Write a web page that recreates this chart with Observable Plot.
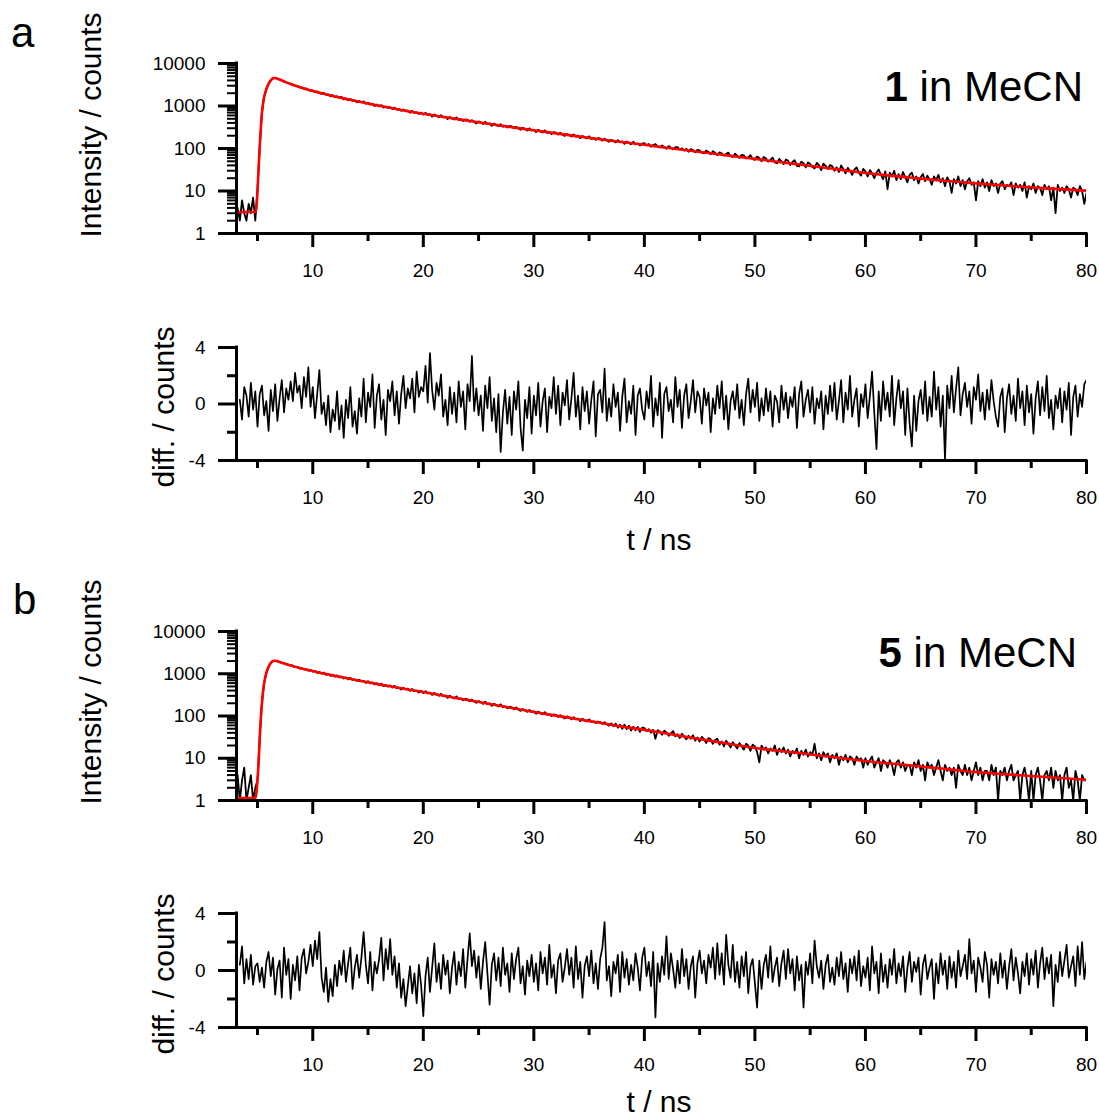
<!DOCTYPE html>
<html><head><meta charset="utf-8">
<script src="https://cdn.jsdelivr.net/npm/d3@7"></script>
<script src="https://cdn.jsdelivr.net/npm/@observablehq/plot@0.6"></script>
<style>
body{margin:0;background:#fff;}
#fig{position:relative;width:1099px;height:1120px;font-family:"Liberation Sans",Arial,Helvetica,sans-serif;color:#000;overflow:hidden;}
.panel{position:absolute;left:0;}
.panel svg{display:block;}
.lbl{position:absolute;white-space:nowrap;line-height:1;}
</style></head><body><div id="fig"></div><script>
// ---------- sampling grid (channel times, ns) ----------
const T0_DECAY = 3.2, T0_RESID = 3.4, DT = 0.2;
const X_DOMAIN = [3.1, 80];
const xMajorTicks = [10, 20, 30, 40, 50, 60, 70, 80];
const xMinorTicks = [5, 15, 25, 35, 45, 55, 65, 75];
const logMajorTicks = [1, 10, 100, 1000, 10000];
const logMinorTicks = [2,3,4,5,6,7,8,9,20,30,40,50,60,70,80,90,200,300,400,500,600,700,800,900,2000,3000,4000,5000,6000,7000,8000,9000];
const diffMajorTicks = [-4, 0, 4];
const diffMinorTicks = [-2, 2];

// ---------- panel a: 1 in MeCN ----------
const countsA = [
4,2,6,3,
2,5,3,7,2,
11,105,690,1640,2520,
3280,4020,4480,4560,4380,
4240,3950,3870,3550,3480,
3230,3220,3000,2970,2740,
2750,2550,2580,2400,2270,
2330,2130,2210,2020,1920,
2040,1830,1870,1690,1800,
1610,1700,1560,1640,1430,
1510,1360,1470,1330,1350,
1220,1310,1220,1280,1130,
1200,1085,1125,1000,1080,
985,1050,920,965,905,
940,850,915,820,835,
770,830,760,780,695,
765,690,710,650,700,
625,690,620,645,565,
630,590,540,610,540,
560,490,555,510,480,
540,470,490,440,485,
470,425,465,420,390,
435,410,375,425,375,
390,340,385,355,335,
375,325,340,310,340,
330,297,328,296,276,
307,290,265,299,265,
276,243,275,252,238,
268,232,243,220,243,
236,212,235,212,198,
219,208,191,215,190,
199,175,198,182,172,
194,168,175,160,175,
172,154,171,154,144,
160,152,139,157,139,
146,129,146,135,127,
144,125,131,118,130,
134,119,128,110,121,
127,112,106,118,109,
99,114,104,96,107,
108,95,101,89,98,
84,97,92,81,93,
90,80,77,89,83,
73,86,79,70,81,
77,68,74,80,66,
63,75,68,60,71,
69,58,62,70,56,
54,65,60,50,63,
58,49,54,61,47,
45,57,50,43,55,
52,41,48,53,39,
38,49,45,36,47,
43,37,34,46,40,
31,44,39,33,41,
38,30,36,28,40,
33,26,35,30,24,
32,36,27,23,33,
29,22,31,26,20,
27,32,24,19,29,
11,27,22,30,18,
25,19,28,21,16,
24,27,18,22,15,
21,25,17,23,19,
14,22,18,24,16,
20,13,21,17,9,
19,15,22,13,18,
11,17,20,14,16,
6,17,13,19,12,
16,10,18,13,15,
9,15,17,11,14,
13,16,8,15,12,
14,10,16,7,13,
11,15,9,13,12,
8,14,11,13,6,
12,3,14,10,12,
9,13,11,7,12,
11,8,13,10,5,
9];
const fitTimes = [3.1,4.8,4.9,5.0,5.1,5.2,5.3,5.4,5.5,5.6,5.7,5.8,6.0,6.2,6.4,6.6,6.8,7.0,7.5,8,8.5,9,9.5,10,11,12,13,14,15,16,17,18,19,20,22,24,26,28,30,32,34,36,38,40,42,44,46,48,50,52,54,56,58,60,62,64,66,68,70,72,74,76,78,80];
const fitA = [3.2,3.2,4,10,35,110,300,700,1150,1650,2050,2500,3300,4000,4500,4550,4400,4200,3700,3296,2965,2692,2460,2265,1940,1680,1470,1295,1145,1015,905,808,724,658,545,453,378,318,268,227,193,165,142,122,104.5,89.7,77.1,66.2,56.9,48.9,42.0,36.1,31.0,26.6,23.3,20.7,18.5,16.7,15.1,13.8,12.7,11.7,10.9,10.2];
const residA = [
0.3,-1.1,1.2,
0.6,-0.9,1.5,-0.4,0.9,
-1.6,0.7,1.3,-0.8,0.2,
-1.9,1.0,-0.5,1.4,-1.2,
0.4,1.7,-0.6,1.1,0.3,
1.6,0.2,2.2,0.8,1.3,
-0.3,1.9,0.5,2.6,-0.2,
1.2,-1.0,0.7,2.4,-0.7,
0.1,-1.5,0.6,-2.0,-0.4,
-1.2,0.9,-1.8,-0.1,-2.4,
0.3,-1.0,1.2,-1.6,-0.5,
-2.1,0.4,-0.9,1.8,-1.3,
0.8,-0.2,2.1,-1.7,0.6,
1.4,-1.1,0.3,-2.2,1.0,
0.2,1.6,-0.8,0.9,-1.4,
0.7,2.0,-0.3,1.1,0.4,
1.8,-0.6,2.3,0.5,1.2,
0.9,2.7,0.1,3.6,1.0,
-0.4,1.5,0.6,2.1,-0.9,
0.3,-1.5,1.2,-0.7,0.8,
-1.3,1.6,-0.2,0.9,-1.8,
1.4,0.2,3.4,-0.5,1.1,
-0.8,0.6,-1.9,1.3,-0.3,
1.9,-1.2,0.4,-2.0,0.7,
-3.4,-0.6,1.0,-1.4,0.5,
-2.2,0.9,-0.4,1.6,-1.7,
-3.3,0.3,-1.0,1.2,-2.1,
0.6,-0.8,1.5,-1.6,0.2,
1.1,-2.0,0.5,-0.3,1.9,
-0.7,1.3,-1.5,0.8,-0.1,
1.7,-1.1,0.4,2.2,-0.9,
0.6,-1.8,1.2,-0.5,0.9,
-1.4,0.3,1.6,-2.3,0.7,
1.0,-0.6,2.5,-1.2,0.4,
-0.9,1.4,-0.2,0.8,-1.9,
0.5,1.8,-1.3,0.2,-0.7,
1.3,-2.2,0.6,1.1,-0.4,
-1.1,0.9,-0.3,2.0,-1.6,
0.4,-0.8,1.5,-2.4,0.7,
1.2,-0.5,0.3,-1.3,1.9,
-0.2,1.0,-1.7,0.6,1.4,
-1.0,0.2,1.7,-0.6,0.9,
0.5,-1.4,1.1,-0.1,0.8,
-2.0,0.4,-0.7,1.3,-0.3,
1.6,-1.1,0.6,-1.8,0.2,
0.9,-0.4,1.4,-1.0,0.3,
-1.5,0.7,1.8,-0.6,1.0,
-0.2,1.5,-1.2,0.4,-0.8,
1.1,-0.5,0.9,-1.6,0.6,
0.2,-1.3,1.3,-0.4,0.8,
-1.0,0.5,-0.2,1.2,-1.7,
0.7,1.6,-0.9,0.3,1.0,
-0.6,1.2,-1.4,0.4,-0.3,
0.9,-1.8,0.6,-0.7,1.3,
-0.5,1.5,-1.1,0.2,1.7,
-1.3,0.8,-0.4,2.0,-0.9,
0.3,1.1,-1.6,0.7,-0.2,
1.4,-1.0,0.5,2.3,-0.6,
-3.2,0.9,-1.2,1.6,-0.4,
0.8,-0.9,2.0,-1.5,0.4,
1.7,-0.3,0.9,-2.2,1.1,
-1.4,-3.0,0.6,-1.9,0.2,
1.0,-0.7,1.6,-1.2,0.5,
-0.9,2.3,-0.4,1.2,-1.6,
0.6,-4.0,1.3,-0.3,2.0,
-0.6,1.1,2.6,-0.8,0.7,
1.5,-0.2,0.9,-1.4,1.2,
0.3,2.1,-0.5,0.8,-1.1,
1.0,-0.4,1.7,0.2,-0.9,
-1.6,0.5,1.1,-2.0,0.4,
1.4,-0.7,0.6,-1.2,1.8,
-0.3,0.9,-1.5,1.3,-0.6,
0.7,-2.1,0.4,1.6,-0.8,
1.2,-0.5,2.0,-1.0,0.3,
-1.8,0.6,-0.3,1.1,-1.3,
0.9,-0.4,1.5,-2.2,0.5,
1.3,-0.9,0.7,-0.2,1.4,
1.7];

// ---------- panel b: 5 in MeCN ----------
const countsB = [
4,1,3,6,
1,2,4,1,2,
3,31,205,610,1040,
1460,1790,2010,2020,1990,
1920,1790,1790,1675,1650,
1550,1550,1435,1460,1330,
1370,1265,1280,1185,1225,
1125,1165,1045,1095,1005,
1060,945,990,890,950,
855,915,825,860,770,
820,735,800,715,735,
670,720,660,680,605,
665,590,620,560,595,
540,585,510,545,500,
530,470,515,460,470,
425,465,425,445,395,
435,385,400,360,395,
350,385,345,360,315,
350,325,300,335,295,
305,268,302,276,259,
291,250,260,235,257,
249,222,245,220,205,
226,213,194,218,191,
199,174,196,179,168,
189,162,169,152,167,
161,144,159,142,132,
146,137,125,140,124,
129,113,127,117,109,
123,107,110,100,109,
106,95,105,94,88,
98,92,84,94,83,
87,75,86,78,74,
83,72,74,68,74,
72,65,71,64,59,
67,57,66,53,62,
50,62,49,59,45,
56,46,55,42,53,
52,44,49,40,47,
29,46,43,36,45,
41,34,39,44,33,
37,30,38,33,28,
34,29,35,26,31,
25,32,28,23,30,
28,22,27,29,21,
25,19,26,22,18,
24,20,17,23,19,
16,22,20,15,21,
19,14,8,20,16,
18,13,17,15,20,
12,17,14,18,13,
16,11,15,13,17,
10,15,12,16,11,
14,12,22,10,13,
9,14,11,13,8,
12,10,13,7,11,
9,12,8,11,10,
7,11,9,10,6,
10,7,9,11,6,
8,10,5,9,8,
6,9,7,4,8,
9,6,8,5,7,
7,4,8,6,9,
5,7,3,8,6,
7,4,6,9,5,
3,7,5,6,4,
6,2,7,5,4,
7,4,6,3,5,
8,4,6,3,5,
5,3,7,4,6,
1,5,4,6,3,
5,7,3,4,5,
1,4,6,3,1,
5,1,4,6,3,
1,4,5,3,6,
2,5,3,4,1,
4,6,2,3,1,
5,3,1,4,3,
3];
const fitB = [1.15,1.15,1.5,3,8,30,90,200,380,600,820,1050,1450,1800,2000,2030,1980,1900,1720,1580,1440,1330,1240,1160,1010,890,790,703,627,561,504,453,408,369,297,239,193,155,125,102,84,69,56,47,38.5,31.5,25.8,21.2,17.5,15.2,13.3,11.5,10.0,8.6,7.6,6.8,6.0,5.3,4.7,4.3,3.95,3.65,3.35,3.1];
const residB = [
0.4,1.7,-0.9,
0.8,-0.6,1.1,-1.0,0.3,
0.5,-0.8,0.2,-1.2,0.6,
1.3,-0.4,0.9,-1.7,0.1,
0.7,-1.9,1.6,-0.3,0.8,
-2.0,0.4,-0.7,1.0,-1.4,
0.9,1.5,-0.2,0.6,1.8,
0.3,2.1,0.8,2.7,-0.5,
-1.5,0.2,-2.2,-0.6,-1.8,
0.4,-1.1,0.7,-0.3,1.4,
-0.8,0.5,1.6,-1.3,0.2,
1.1,-0.5,0.9,2.7,0.4,
-0.9,1.3,-1.4,0.6,-0.2,
0.8,2.3,-0.7,1.5,0.1,
2.2,-0.3,1.0,-1.2,0.5,
-1.9,-0.6,-2.5,-1.1,0.3,
-1.6,-0.2,-2.3,0.4,-1.0,
-3.2,-0.4,0.9,-1.5,0.2,
1.9,-0.8,0.5,-1.3,1.1,
-0.3,0.7,-1.6,0.2,1.3,
-1.0,0.6,-0.4,1.5,-1.2,
0.8,2.6,0.3,1.4,-0.5,
1.0,-1.3,0.6,2.0,-0.2,
-2.4,0.4,1.2,-0.7,0.9,
-1.1,1.6,-0.3,0.5,-1.5,
1.2,-0.6,0.8,1.6,-0.9,
0.3,-1.7,0.7,-0.4,1.1,
-0.8,0.5,-1.4,1.3,-0.2,
0.9,-1.0,1.8,-0.5,0.4,
-1.6,0.7,1.2,-0.8,0.2,
1.5,-0.3,0.9,-1.2,1.7,
-0.6,0.6,-1.9,0.3,1.0,
-0.4,1.4,-0.9,0.5,-1.3,
0.8,1.6,3.4,-0.7,0.3,
-1.8,0.6,-0.2,1.1,-1.5,
1.3,-0.5,0.8,-1.0,0.4,
-0.7,1.2,0.2,-1.4,0.9,
1.6,-0.4,0.6,-1.1,1.3,
-3.3,0.5,-0.8,1.0,-0.3,
2.4,-0.6,1.2,0.1,-1.2,
0.7,-0.9,1.5,-0.4,0.8,
-1.3,0.3,1.0,-1.9,0.5,
1.4,-0.2,0.7,-0.9,1.1,
0.2,1.6,-0.6,1.9,-0.3,
1.2,-1.0,2.5,0.4,-0.5,
1.8,-0.8,0.6,-1.2,1.0,
-0.4,1.3,-1.6,0.3,0.8,
-0.9,-2.6,0.7,-1.3,0.4,
1.1,-0.5,1.7,-0.8,0.2,
0.9,-1.1,0.5,1.4,-0.6,
1.5,-0.2,0.8,-1.4,1.0,
-0.7,0.4,-2.6,0.6,-0.3,
1.2,-0.9,2.1,0.3,-0.5,
0.7,-1.3,0.4,1.1,-0.8,
0.2,-1.0,0.9,-0.4,1.3,
-0.6,0.5,-1.5,0.8,-0.2,
1.0,-0.7,1.4,-1.1,0.3,
-0.5,0.9,-1.4,1.7,-0.2,
0.6,-1.6,1.2,-0.8,0.4,
-1.2,0.8,-0.3,1.5,-0.9,
0.5,-0.4,1.0,-1.5,0.2,
1.3,-0.8,0.6,-0.1,0.9,
-1.7,0.4,1.1,-0.6,0.2,
0.8,-2.0,0.5,-0.9,1.2,
-0.3,0.7,-1.3,1.0,-0.5,
0.6,-1.2,1.4,-0.4,0.3,
1.1,-0.6,2.2,-0.2,0.7,
-1.5,0.9,0.2,-0.8,1.3,
0.4,-1.9,0.8,-0.3,0.6,
-0.9,1.2,-0.5,0.7,-1.3,
0.3,1.5,-0.7,0.9,-0.2,
-1.6,0.6,-0.4,1.2,-1.0,
0.8,-0.3,1.4,-1.2,0.5,
1.6,-0.6,0.9,-0.2,1.1,
-2.5,0.4,-0.8,1.3,-0.4,
0.7,1.8,-0.5,0.3,1.0,
-1.1,1.7,-0.3,2.0,-0.6,
0.6];

// ---------- drawing ----------
const fig = document.getElementById("fig");
const FONT = '"Liberation Sans", Arial, Helvetica, sans-serif';
const svgStyle = {fontFamily: FONT, fontSize: "19px", color: "black", background: "transparent", overflow: "visible"};

function xAxisMarks() {
  return [
    Plot.axisX(xMajorTicks, {anchor: "bottom", tickSize: 14, tickPadding: 16, strokeWidth: 3, tickFormat: d => String(d)}),
    Plot.axisX(xMinorTicks, {anchor: "bottom", tickSize: 8, tickPadding: 0, strokeWidth: 3, tickFormat: () => ""})
  ];
}
function mount(svg, top) {
  const d = document.createElement("div");
  d.className = "panel";
  d.style.top = top + "px";
  d.appendChild(svg);
  fig.appendChild(d);
}
function decayPanel(counts, fitV, top, height, mt, mb) {
  const data = counts.map((v, i) => ({t: T0_DECAY + i * DT, v}));
  const fit = fitTimes.map((t, i) => ({t, v: fitV[i]}));
  mount(Plot.plot({
    width: 1099, height, marginLeft: 236, marginRight: 13, marginTop: mt, marginBottom: mb,
    style: svgStyle,
    x: {domain: X_DOMAIN, label: null},
    y: {type: "log", domain: [1, 10000], label: null},
    marks: [
      Plot.line(data, {x: "t", y: "v", stroke: "black", strokeWidth: 1.8, clip: true}),
      Plot.line(fit, {x: "t", y: "v", stroke: "#ff0000", strokeWidth: 2.6, curve: "monotone-x", clip: true}),
      Plot.axisY(logMajorTicks, {anchor: "left", tickSize: 18, tickPadding: 13, strokeWidth: 3, tickFormat: d => String(d)}),
      Plot.axisY(logMinorTicks, {anchor: "left", tickSize: 9, tickPadding: 0, strokeWidth: 2, tickFormat: () => ""}),
      ...xAxisMarks(),
      Plot.ruleX([X_DOMAIN[0]], {strokeWidth: 3, strokeLinecap: "square"}),
      Plot.ruleY([1], {strokeWidth: 3, strokeLinecap: "square"})
    ]
  }), top);
}
function residPanel(resid, top, height, mt, mb) {
  const data = resid.map((v, i) => ({t: T0_RESID + i * DT, v}));
  mount(Plot.plot({
    width: 1099, height, marginLeft: 236, marginRight: 13, marginTop: mt, marginBottom: mb,
    style: svgStyle,
    x: {domain: X_DOMAIN, label: null},
    y: {domain: [-4, 4], label: null},
    marks: [
      Plot.line(data, {x: "t", y: "v", stroke: "black", strokeWidth: 1.7, clip: true}),
      Plot.axisY(diffMajorTicks, {anchor: "left", tickSize: 18, tickPadding: 13, strokeWidth: 3, tickFormat: d => String(d)}),
      Plot.axisY(diffMinorTicks, {anchor: "left", tickSize: 9, tickPadding: 0, strokeWidth: 3, tickFormat: () => ""}),
      ...xAxisMarks(),
      Plot.ruleX([X_DOMAIN[0]], {strokeWidth: 3, strokeLinecap: "square"}),
      Plot.ruleY([-4], {strokeWidth: 3, strokeLinecap: "square"})
    ]
  }), top);
}

decayPanel(countsA, fitA, 0, 300, 63, 67);
residPanel(residA, 300, 260, 47, 100);
decayPanel(countsB, fitB, 560, 300, 71, 60);
residPanel(residB, 860, 260, 53, 93);

// ---------- text ----------
function label(html, css) {
  const d = document.createElement("div");
  d.className = "lbl";
  d.innerHTML = html;
  Object.assign(d.style, css);
  fig.appendChild(d);
}
function vlabel(text, cx, cy) {
  label(text, {left: cx + "px", top: cy + "px", fontSize: "30px", transform: "translate(-50%,-50%) rotate(-90deg)"});
}
label("a", {left: "11px", top: "12px", fontSize: "42px"});
label("b", {left: "13px", top: "579px", fontSize: "42px"});
label("<b>1</b> in MeCN", {right: "16px", top: "66px", fontSize: "42px"});
label("<b>5</b> in MeCN", {right: "22px", top: "632px", fontSize: "42px"});
vlabel("Intensity / counts", 90.6, 125);
vlabel("diff. / counts", 163.6, 407);
vlabel("Intensity / counts", 90.6, 692);
vlabel("diff. / counts", 163.6, 974);
label("t / ns", {left: "659px", top: "525px", fontSize: "30px", transform: "translateX(-50%)"});
label("t / ns", {left: "659px", top: "1087px", fontSize: "30px", transform: "translateX(-50%)"});
</script></body></html>
